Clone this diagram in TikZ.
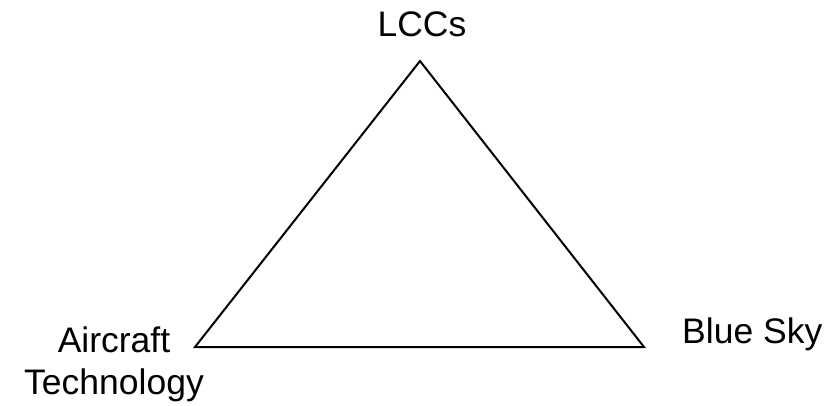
\documentclass[tikz,border=0pt]{standalone}
\usepackage{fontspec}
\setmainfont{Liberation Sans}
\begin{document}
\begin{tikzpicture}[x=1pt,y=-1pt,
  lbl/.style={inner sep=0pt, font=\fontsize{35.5}{42}\selectfont},
  edge/.style={line width=2pt, line join=miter}]
\useasboundingbox (0,0) rectangle (830,406);
\coordinate (top) at (420,61);
\coordinate (left) at (195,347);
\coordinate (right) at (644,347);
\draw[edge] (top) -- (left) -- (right) -- cycle;
\node[lbl, anchor=base] (lccs) at (422,37) {LCCs};
\node[lbl, anchor=base west] (blue) at (682,343) {Blue Sky};
\node[lbl, anchor=base, align=center] (air) at (114,394) {Aircraft\\Technology};
\end{tikzpicture}
\end{document}
